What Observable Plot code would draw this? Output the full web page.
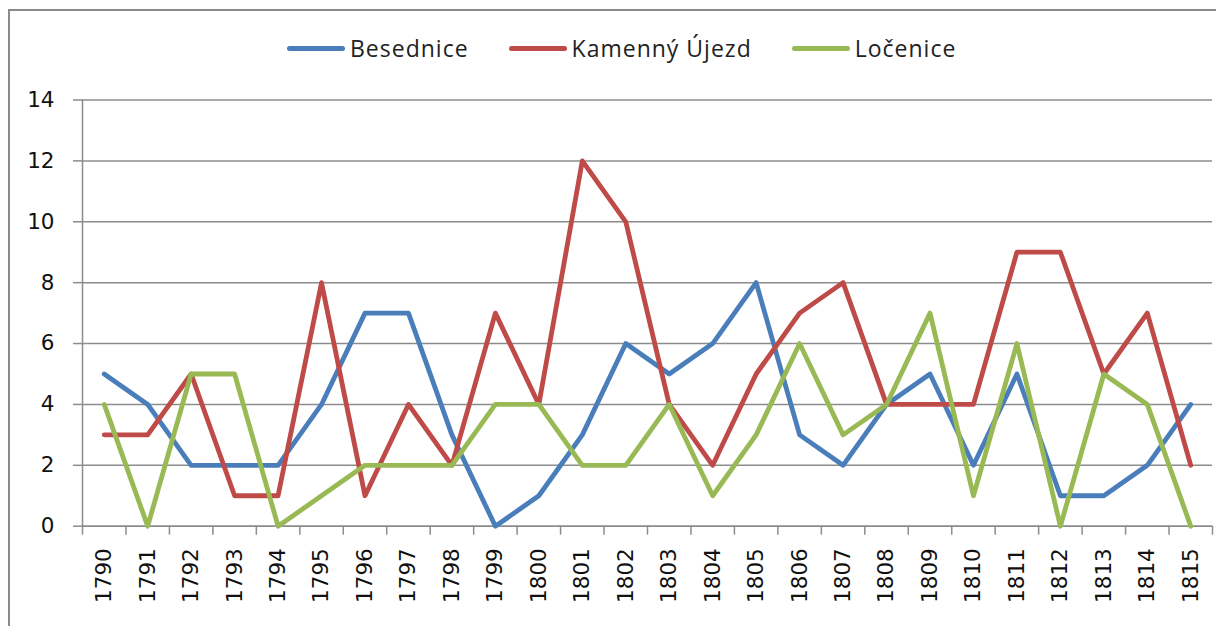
<!DOCTYPE html>
<html><head><meta charset="utf-8">
<script src="https://cdn.jsdelivr.net/npm/d3@7"></script>
<script src="https://cdn.jsdelivr.net/npm/@observablehq/plot@0.6"></script>
<style>
body{margin:0;background:#fff;}
#wrap{position:relative;width:1216px;height:626px;overflow:hidden;background:#fff;}
#frame{position:absolute;left:8px;top:9px;width:1230px;height:650px;border:2px solid #8a8a8a;box-sizing:border-box;}
#legend{position:absolute;top:32px;left:287px;display:flex;align-items:center;font-family:"Open Sans";font-size:23px;letter-spacing:1px;color:#222;white-space:nowrap;}
.item{display:flex;align-items:center;margin-right:40px}
.sw{width:58px;height:5px;border-radius:3px;margin-right:5px}
#chart{position:absolute;left:0;top:0}
</style></head>
<body>
<div id="wrap"><div id="frame"></div><div id="legend"></div><div id="chart"></div></div>
<script>
const years = ["1790","1791","1792","1793","1794","1795","1796","1797","1798","1799","1800","1801","1802","1803","1804","1805","1806","1807","1808","1809","1810","1811","1812","1813","1814","1815"];
const seriesNames = ["Besednice","Kamenný Újezd","Ločenice"];
const besednice = [5,4,2,2,2,4,7,7,3,0,1,3,6,5,6,8,3,2,4,5,2,5,1,1,2,4];
const kamennyUjezd = [3,3,5,1,1,8,1,4,2,7,4,12,10,4,2,5,7,8,4,4,4,9,9,5,7,2];
const locenice = [4,0,5,5,0,1,2,2,2,4,4,2,2,4,1,3,6,3,4,7,1,6,0,5,4,0];
const yTicks = [0,2,4,6,8,10,12,14];
const colors = ["#4A7EBB","#BE4B48","#98B954"];

const valuesBySeries = [besednice, kamennyUjezd, locenice];
const rows = [];
seriesNames.forEach((s, k) => valuesBySeries[k].forEach((v, i) => rows.push({i, year: years[i], value: v, series: s})));
const idx = years.map((_, i) => i);
const bounds = d3.range(years.length + 1).map(i => i - 0.5);
const grey = "#8c8c8c";

const chart = Plot.plot({
  width: 1216, height: 626,
  marginLeft: 82, marginRight: 4, marginTop: 99.5, marginBottom: 100.3,
  x: {type: "linear", domain: [-0.5, years.length - 0.5]},
  y: {domain: [0, 14]},
  color: {domain: seriesNames, range: colors},
  style: {fontFamily: "DejaVu Sans", fontSize: "21px", color: "#111", background: "transparent", overflow: "visible"},
  marks: [
    Plot.gridY(yTicks, {stroke: grey, strokeOpacity: 1, strokeWidth: 1.5}),
    Plot.ruleX([-0.5], {y1: 0, y2: 14, stroke: grey, strokeWidth: 1.5}),
    Plot.ruleY([0], {stroke: grey, strokeWidth: 1.5}),
    Plot.axisY(yTicks, {tickSize: 9, tickPadding: 19, stroke: grey, strokeWidth: 1.5, label: null, fontSize: 21.5}),
    Plot.axisX(bounds, {tickSize: 9, tickFormat: () => "", stroke: grey, strokeWidth: 1.5, label: null}),
    Plot.axisX(idx, {tickSize: 0, tickPadding: 22, tickRotate: -90, tickFormat: i => years[i], label: null, fontSize: 21.5}),
    Plot.line(rows, {x: "i", y: "value", z: "series", stroke: "series", strokeWidth: 4.8, strokeLinejoin: "round", strokeLinecap: "round"})
  ]
});
document.getElementById("chart").appendChild(chart);

const legend = document.getElementById("legend");
seriesNames.forEach((s, k) => {
  const it = document.createElement("div"); it.className = "item";
  const sw = document.createElement("div"); sw.className = "sw"; sw.style.background = colors[k];
  const t = document.createElement("span"); t.textContent = s;
  it.appendChild(sw); it.appendChild(t); legend.appendChild(it);
});
</script>
</body></html>
